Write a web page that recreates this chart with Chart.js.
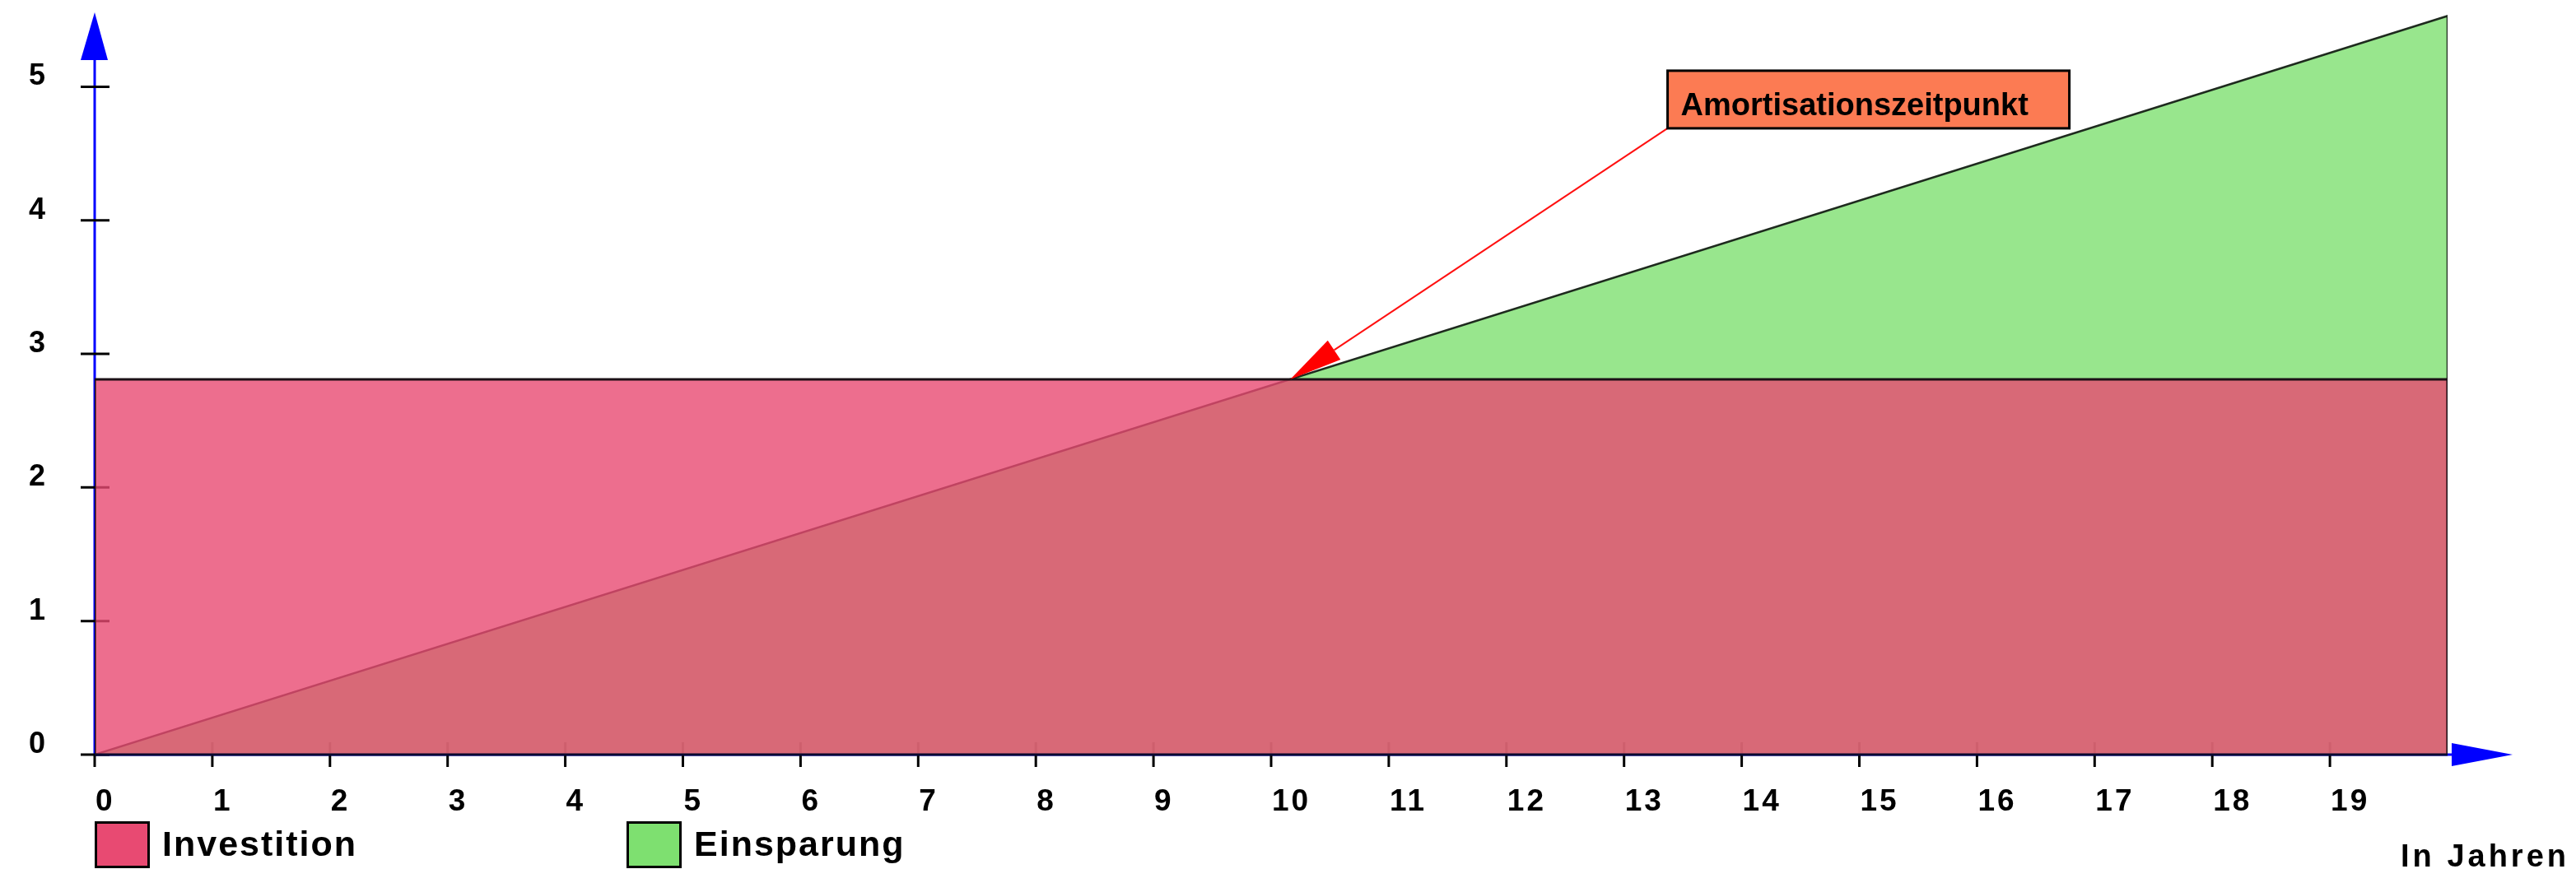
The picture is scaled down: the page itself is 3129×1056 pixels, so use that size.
<!DOCTYPE html>
<html>
<head>
<meta charset="utf-8">
<title>Amortisation</title>
<script src="https://cdn.jsdelivr.net/npm/chart.js"></script>
<style>
    html, body { margin: 0; padding: 0; background: #fff; }
    #wrap { width: 3129px; height: 1056px; position: relative; }
</style>
</head>
<body>
<div id="wrap"><canvas id="amortChart"></canvas></div>
<script>
// Werte
const jahre = [0, 20];
const investitionWerte = [2.81, 2.81];
const einsparungWerte = [0, 5.53];
const xTickLabels = [0, 1, 2, 3, 4, 5, 6, 7, 8, 9, 10, 11, 12, 13, 14, 15, 16, 17, 18, 19];
const yTickLabels = [0, 1, 2, 3, 4, 5];
const legendLabels = ['Investition', 'Einsparung'];
const annotationText = 'Amortisationszeitpunkt';
const xAxisTitle = 'In Jahren';

const FONT = '"Liberation Sans", Arial, sans-serif';
const rot = 'rgba(232, 74, 114, 0.8)';
const gruen = 'rgba(126, 224, 112, 0.8)';

document.addEventListener('DOMContentLoaded', () => {
    const ctx = document.getElementById('amortChart').getContext('2d');

    // Investition als Rechteck, Einsparung als Dreieck (beides bis zur x-Achse gefuellt)
    const investitionData = [
        { x: jahre[0], y: 0 },
        { x: jahre[0], y: investitionWerte[0] },
        { x: jahre[1], y: investitionWerte[1] },
        { x: jahre[1], y: 0 },
    ];
    const einsparungData = [
        { x: jahre[0], y: einsparungWerte[0] },
        { x: jahre[1], y: einsparungWerte[1] },
        { x: jahre[1], y: 0 },
    ];

    // Schnittpunkt von Einsparung und Investition
    const steigung = (einsparungWerte[1] - einsparungWerte[0]) / (jahre[1] - jahre[0]);
    const amortJahr = (investitionWerte[0] - einsparungWerte[0]) / steigung;

    function arrowHead(c, tipX, tipY, fromX, fromY, len, half) {
        const ang = Math.atan2(tipY - fromY, tipX - fromX);
        const bx = tipX - len * Math.cos(ang), by = tipY - len * Math.sin(ang);
        c.beginPath();
        c.moveTo(tipX, tipY);
        c.lineTo(bx + half * Math.sin(ang), by - half * Math.cos(ang));
        c.lineTo(bx - half * Math.sin(ang), by + half * Math.cos(ang));
        c.closePath();
        c.fill();
        return { bx, by };
    }

    const achsenPlugin = {
        id: 'achsen',
        beforeDatasetsDraw(chart) {
            const { ctx: c, chartArea, scales: { x, y } } = chart;
            const x0 = x.getPixelForValue(0), y0 = y.getPixelForValue(0);
            const xEnd = x.getPixelForValue(jahre[1]);
            c.save();
            // blaue Achsen mit Pfeilen
            c.strokeStyle = '#0000ff';
            c.fillStyle = '#0000ff';
            c.lineWidth = 3;
            const yTip = chartArea.top + 7;
            c.beginPath();
            c.moveTo(x0, y0);
            c.lineTo(x0, yTip + 58);
            c.moveTo(x0, y0);
            c.lineTo(xEnd + 6, y0);
            c.stroke();
            c.beginPath();
            c.moveTo(x0, yTip);
            c.lineTo(x0 + 16, yTip + 58);
            c.lineTo(x0 - 17, yTip + 58);
            c.closePath();
            c.fill();
            c.beginPath();
            c.moveTo(xEnd + 79, y0);
            c.lineTo(xEnd + 5, y0 - 14);
            c.lineTo(xEnd + 5, y0 + 14);
            c.closePath();
            c.fill();

            // Teilstriche
            c.strokeStyle = '#000';
            c.lineWidth = 3;
            c.beginPath();
            yTickLabels.forEach(v => {
                const py = y.getPixelForValue(v);
                c.moveTo(x0 - 17, py);
                c.lineTo(x0 + 18, py);
            });
            xTickLabels.forEach(v => {
                const px = x.getPixelForValue(v);
                c.moveTo(px, v === 0 ? y0 : y0 - 15);
                c.lineTo(px, y0 + 15);
            });
            c.stroke();
            c.restore();
        },
        afterDatasetsDraw(chart) {
            const { ctx: c, scales: { x, y } } = chart;
            const x0 = x.getPixelForValue(0), y0 = y.getPixelForValue(0);
            const xEnd = x.getPixelForValue(jahre[1]);
            c.save();

            // dunkle Grundlinie unter den Flaechen
            c.strokeStyle = '#0a0a30';
            c.lineWidth = 3;
            c.beginPath();
            c.moveTo(x0, y0);
            c.lineTo(xEnd, y0);
            c.stroke();

            // Beschriftung der Achsen
            c.fillStyle = '#000';
            c.font = 'bold 37px ' + FONT;
            c.letterSpacing = '3px';
            c.textAlign = 'left';
            c.textBaseline = 'alphabetic';
            xTickLabels.forEach(v => {
                c.fillText(String(v), x.getPixelForValue(v) + 1, y0 + 68);
            });
            c.font = 'bold 36px ' + FONT;
            c.letterSpacing = '0px';
            c.textAlign = 'center';
            yTickLabels.forEach(v => {
                c.fillText(String(v), 45, y.getPixelForValue(v) - 2);
            });
            c.font = 'bold 38px ' + FONT;
            c.letterSpacing = '4px';
            c.textAlign = 'right';
            c.fillText(xAxisTitle, 3121, 1053);

            // Legende
            const legendX = [115, 761];
            const legendFill = ['#e84a72', '#7ee070'];
            c.font = 'bold 43px ' + FONT;
            c.letterSpacing = '2px';
            c.textAlign = 'left';
            legendLabels.forEach((label, i) => {
                c.fillStyle = legendFill[i];
                c.fillRect(legendX[i], 999, 66, 55);
                c.strokeStyle = '#000';
                c.lineWidth = 3;
                c.strokeRect(legendX[i] + 1.5, 999.5, 64, 54);
                c.fillStyle = '#000';
                c.fillText(label, legendX[i] + 82, 1040);
            });

            // Amortisationszeitpunkt mit Pfeil
            const tipX = x.getPixelForValue(amortJahr);
            const tipY = y.getPixelForValue(investitionWerte[0]);
            const boxL = x.getPixelForValue(13.37);
            const boxT = y.getPixelForValue(5.12);
            const boxW = 488, boxH = 70;
            c.fillStyle = '#ff0000';
            c.strokeStyle = '#ff1010';
            const head = arrowHead(c, tipX, tipY, boxL, boxT + boxH, 64, 14);
            c.lineWidth = 2;
            c.beginPath();
            c.moveTo(boxL, boxT + boxH);
            c.lineTo(head.bx, head.by);
            c.stroke();

            c.fillStyle = '#fc7b53';
            c.fillRect(boxL, boxT, boxW, boxH);
            c.strokeStyle = '#000';
            c.lineWidth = 3;
            c.strokeRect(boxL, boxT, boxW, boxH);
            c.fillStyle = '#000';
            c.font = 'bold 38px ' + FONT;
            c.letterSpacing = '0px';
            c.fillText(annotationText, boxL + 16, boxT + 54);
            c.restore();
        }
    };

    new Chart(ctx, {
        type: 'line',
        data: {
            datasets: [
                {
                    label: legendLabels[0],
                    data: investitionData,
                    backgroundColor: rot,
                    borderColor: '#1c1016',
                    borderWidth: 3,
                    fill: 'origin',
                    pointRadius: 0,
                    tension: 0,
                    order: 0,
                },
                {
                    label: legendLabels[1],
                    data: einsparungData,
                    backgroundColor: gruen,
                    borderColor: '#1e2a1e',
                    borderWidth: 2.5,
                    fill: 'origin',
                    pointRadius: 0,
                    tension: 0,
                    order: 1,
                },
            ],
        },
        options: {
            animation: false,
            responsive: true,
            maintainAspectRatio: false,
            layout: { padding: { left: 115, right: 156, top: 8, bottom: 139 } },
            plugins: {
                legend: { display: false },
                tooltip: { enabled: false },
            },
            scales: {
                x: { type: 'linear', min: 0, max: 20, display: false },
                y: { type: 'linear', min: 0, max: 5.6, display: false },
            },
        },
        plugins: [achsenPlugin],
    });
});
</script>
</body>
</html>
